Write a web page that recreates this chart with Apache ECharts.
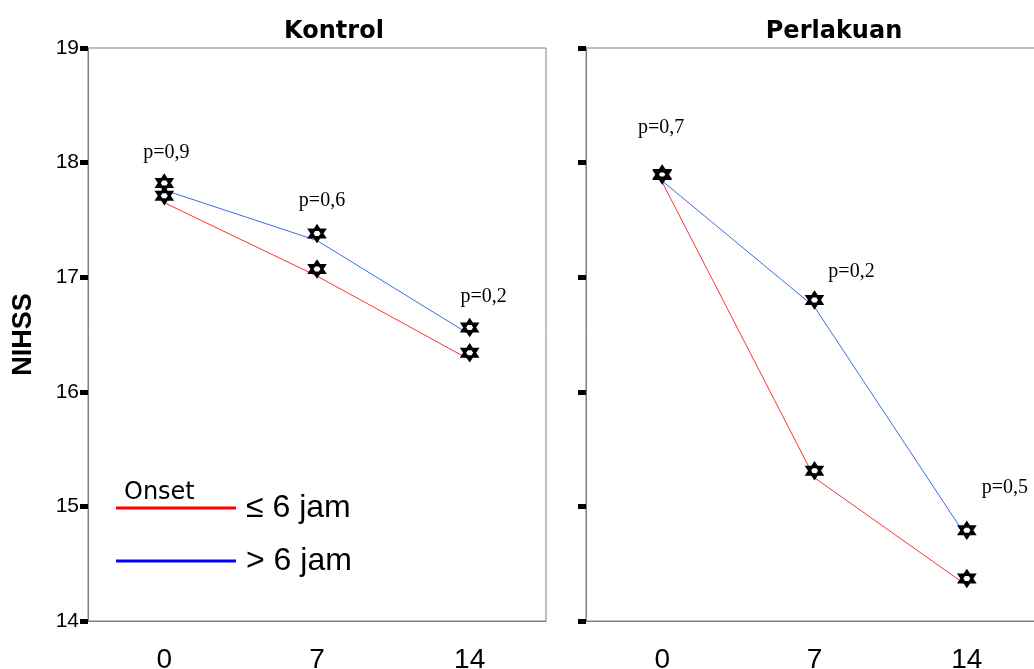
<!DOCTYPE html>
<html>
<head>
<meta charset="utf-8">
<script src="https://cdn.jsdelivr.net/npm/echarts@6/dist/echarts.min.js"></script>
<style>
  html, body { margin: 0; padding: 0; background: #fff; }
  #main { width: 1034px; height: 669px; }
</style>
</head>
<body>
<div id="main"></div>
<script>
// hari pengamatan
var days = ['0', '7', '14'];

// rerata NIHSS, panel Kontrol
var kontrolLe6 = [17.65, 17.01, 16.28];
var kontrolGt6 = [17.76, 17.32, 16.50];

// rerata NIHSS, panel Perlakuan
var perlakuanLe6 = [17.83, 15.25, 14.31];
var perlakuanGt6 = [17.84, 16.74, 14.73];

// nilai p per hari dan tinggi labelnya
var kontrolP = ['p=0,9', 'p=0,6', 'p=0,2'];
var kontrolPY = [18.09, 17.67, 16.83];
var perlakuanP = ['p=0,7', 'p=0,2', 'p=0,5'];
var perlakuanPY = [18.30, 17.05, 15.16];

var yTicks = [14, 15, 16, 17, 18, 19];

var RED = '#ff3030', BLUE = '#3b6fe0';
var star = 'path://M10,0 L18.66,15 L1.34,15 Z M10,20 L18.66,5 L1.34,5 Z';

function pMarks(texts, ys, dx) {
  return texts.map(function (t, i) {
    return { name: t, coord: [days[i], ys[i]], label: { offset: [dx[i], 0] } };
  });
}

function lineSeries(name, data, color, idx, marks) {
  var s = {
    name: name,
    type: 'line',
    xAxisIndex: idx,
    yAxisIndex: idx,
    data: data,
    symbol: star,
    symbolSize: 15,
    symbolOffset: [0, -7],
    lineStyle: { color: color, width: 1 },
    itemStyle: { color: '#fff', borderColor: '#000', borderWidth: 2.5 },
    emphasis: { disabled: true },
    z: 3
  };
  if (marks) {
    s.markPoint = {
      symbol: 'circle',
      symbolSize: 0,
      data: marks,
      label: {
        show: true, position: 'inside', formatter: '{b}',
        color: '#000', fontFamily: 'Liberation Serif', fontSize: 20
      }
    };
  }
  return s;
}

function xAxis(idx) {
  return {
    type: 'category', gridIndex: idx, data: days, boundaryGap: true,
    axisLine: { lineStyle: { color: '#808080', width: 1 } },
    axisTick: { alignWithLabel: true, length: 10, lineStyle: { color: '#000', width: 5 } },
    axisLabel: { color: '#000', fontSize: 28, fontFamily: 'Liberation Sans', margin: 25 }
  };
}

function yAxis(idx, showLabel) {
  var a = {
    type: 'value', gridIndex: idx, min: 14, max: 19, interval: 1,
    axisLine: { show: true, lineStyle: { color: '#808080', width: 1 } },
    axisTick: { show: true, length: 8, lineStyle: { color: '#000', width: 5 } },
    splitLine: { show: false },
    axisLabel: {
      show: showLabel, color: '#000', fontSize: 21, margin: 9,
      fontFamily: 'Liberation Sans',
      formatter: function (v) { return yTicks.indexOf(v) >= 0 ? String(v) : ''; }
    }
  };
  if (showLabel) {
    a.name = 'NIHSS';
    a.nameLocation = 'middle';
    a.nameRotate = 90;
    a.nameGap = 51;
    a.nameTextStyle = { color: '#000', fontSize: 27, fontWeight: 'bold', fontFamily: 'Liberation Sans' };
  }
  return a;
}

var chart = echarts.init(document.getElementById('main'));
chart.setOption({
  animation: false,
  backgroundColor: '#fff',
  title: [
    { text: 'Kontrol', left: 329, top: 15, textAlign: 'center',
      textStyle: { color: '#000', fontSize: 24, fontWeight: 'bold', fontFamily: 'DejaVu Sans' } },
    { text: 'Perlakuan', left: 829, top: 15, textAlign: 'center',
      textStyle: { color: '#000', fontSize: 24, fontWeight: 'bold', fontFamily: 'DejaVu Sans' } },
    { text: 'Onset', left: 119, top: 476,
      textStyle: { color: '#000', fontSize: 24, fontWeight: 'normal', fontFamily: 'DejaVu Sans' } }
  ],
  legend: {
    orient: 'vertical', left: 116, top: 492, itemGap: 21, padding: 0,
    itemWidth: 120, itemHeight: 3, selectedMode: false,
    textStyle: {
      color: '#000', fontSize: 32, padding: [0, 0, 0, 5],
      fontFamily: 'Liberation Sans'
    },
    data: [
      { name: '≤ 6 jam', icon: 'rect', itemStyle: { color: '#ff0000', borderWidth: 0 } },
      { name: '> 6 jam', icon: 'rect', itemStyle: { color: '#0000ff', borderWidth: 0 } }
    ]
  },
  grid: [
    { left: 88, top: 48, width: 458, height: 573, outerBoundsMode: 'none',
      show: true, borderColor: '#808080', borderWidth: 1 },
    { left: 586, top: 48, width: 457, height: 573, outerBoundsMode: 'none',
      show: true, borderColor: '#808080', borderWidth: 1 }
  ],
  xAxis: [xAxis(0), xAxis(1)],
  yAxis: [yAxis(0, true), yAxis(1, false)],
  series: [
    lineSeries('≤ 6 jam', kontrolLe6, RED, 0),
    lineSeries('> 6 jam', kontrolGt6, BLUE, 0, pMarks(kontrolP, kontrolPY, [2, 5, 14])),
    lineSeries('≤ 6 jam', perlakuanLe6, RED, 1),
    lineSeries('> 6 jam', perlakuanGt6, BLUE, 1, pMarks(perlakuanP, perlakuanPY, [-1, 37, 38]))
  ]
});
</script>
</body>
</html>
